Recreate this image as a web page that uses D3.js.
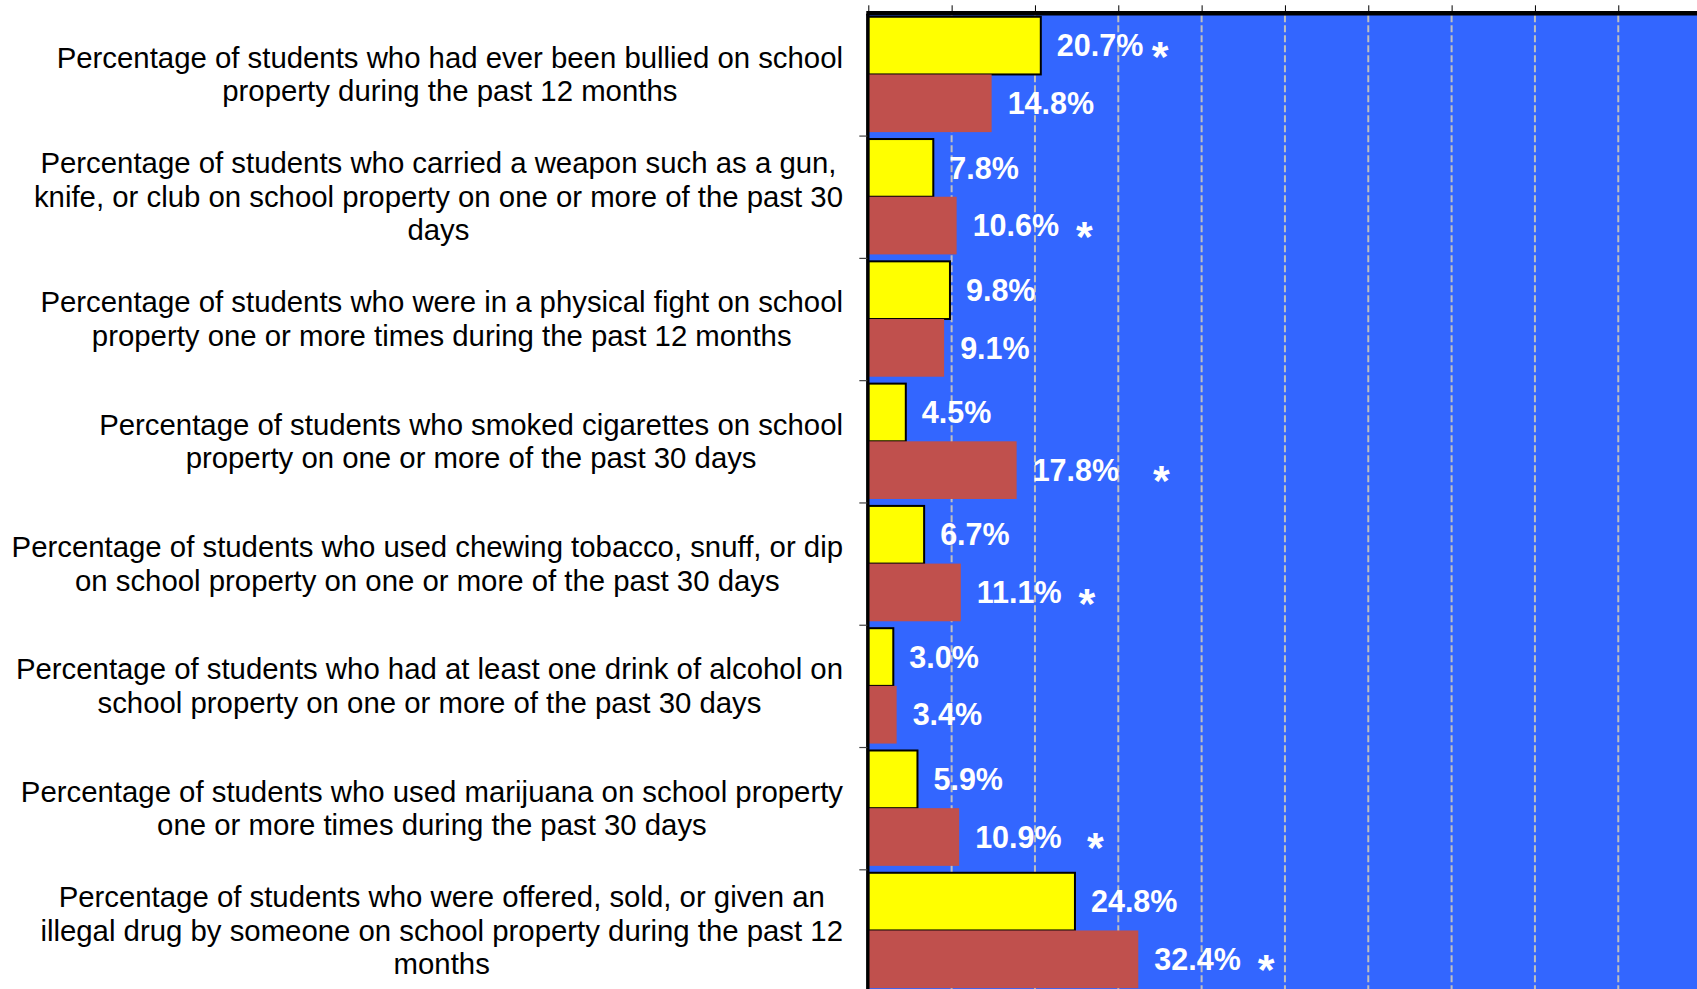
<!DOCTYPE html>
<html><head><meta charset="utf-8">
<script src="https://cdn.jsdelivr.net/npm/d3@7"></script>
<style>
body{margin:0;background:#fff;overflow:hidden}
svg{display:block}
text{font-family:"Liberation Sans",Arial,sans-serif}
</style>
</head><body>
<svg id="chart" width="1697" height="989"></svg>
<script>
// ---- data ----
const categories = [
  ["Percentage of students who had ever been bullied on school", "property during the past 12 months"],
  ["Percentage of students who carried a weapon such as a gun,", "knife, or club on school property on one or more of the past 30", "days"],
  ["Percentage of students who were in a physical fight on school", "property one or more times during the past 12 months"],
  ["Percentage of students who smoked cigarettes on school", "property on one or more of the past 30 days"],
  ["Percentage of students who used chewing tobacco, snuff, or dip", "on school property on one or more of the past 30 days"],
  ["Percentage of students who had at least one drink of alcohol on", "school property on one or more of the past 30 days"],
  ["Percentage of students who used marijuana on school property", "one or more times during the past 30 days"],
  ["Percentage of students who were offered, sold, or given an", "illegal drug by someone on school property during the past 12", "months"]
];
const seriesNames = ["yellow", "red"];
const valuesYellow = [20.7, 7.8, 9.8, 4.5, 6.7, 3.0, 5.9, 24.8];
const valuesRed    = [14.8, 10.6, 9.1, 17.8, 11.1, 3.4, 10.9, 32.4];
// significance marks (spaces before the asterisk are part of the text)
const notesYellow = [" ", "", "", "", "", "", "", ""];
const notesRed    = ["", "  ", "", "    ", "  ", "", "   ", "  "];
const xTicks = [0, 10, 20, 30, 40, 50, 60, 70, 80, 90, 100];

(function () {
// ---- layout ----
const W = 1697, H = 989;
const pLeft = 868.3, pRight = 1701.6, pTop = 13.3, pBottom = 991.6;
const colors = {yellow: "#FFFF00", red: "#C0504D"};
const svg = d3.select("#chart");

const x = d3.scaleLinear().domain([0, 100]).range([pLeft, pRight]);
const y0 = d3.scaleBand().domain(d3.range(categories.length)).range([pTop, pBottom]).padding(0);
const y1 = d3.scaleBand().domain(seriesNames).range([0, y0.bandwidth()]).paddingInner(0).paddingOuter(0.06);
const yIdx = d3.scaleLinear().domain([0, categories.length]).range([pTop, pBottom]);

// plot background
svg.append("rect").attr("x", x(0)).attr("y", pTop).attr("width", W - x(0) + 10).attr("height", pBottom - pTop).attr("fill", "#3366FF");

// gridlines
svg.append("g").selectAll("line").data(xTicks.slice(1)).join("line")
  .attr("x1", d => x(d)).attr("x2", d => x(d))
  .attr("y1", pTop + 2).attr("y2", pBottom)
  .attr("stroke", "#BFBFBF").attr("stroke-width", 2).attr("stroke-dasharray", "7,3");

// bars
const rows = categories.map((c, i) => ({
  i,
  bars: [
    {s: "yellow", v: valuesYellow[i], note: notesYellow[i]},
    {s: "red", v: valuesRed[i], note: notesRed[i]}
  ]
}));
const rowG = svg.append("g").selectAll("g").data(rows).join("g")
  .attr("transform", d => `translate(0,${y0(d.i)})`);
rowG.selectAll("rect").data(d => d.bars).join("rect")
  .attr("x", x(0)).attr("y", d => y1(d.s))
  .attr("width", d => x(d.v) - x(0)).attr("height", y1.bandwidth())
  .attr("fill", d => colors[d.s])
  .attr("stroke", d => d.s === "yellow" ? "#000" : "none")
  .attr("stroke-width", 2);

// value labels
const lab = rowG.selectAll("text").data(d => d.bars).join("text")
  .attr("x", d => x(d.v) + 16)
  .attr("y", d => y1(d.s) + y1.bandwidth() / 2)
  .attr("dy", "0.35em")
  .attr("fill", "#fff").attr("font-weight", "bold").attr("font-size", 30.5)
  .style("white-space", "pre");
lab.append("tspan").text(d => d3.format(".1f")(d.v) + "%" + d.note);
lab.filter(d => d.note !== "").append("tspan")
  .attr("font-size", 43).attr("dy", 14.5).text("*");

// top axis
const xAxis = svg.append("g").attr("transform", `translate(0,${pTop})`)
  .call(d3.axisTop(x).tickValues(xTicks).tickSize(8).tickSizeOuter(0).tickFormat(""));
xAxis.select(".domain").attr("stroke", "#000").attr("stroke-width", 4.5)
  .attr("d", `M${x(0) - 2},0H${W + 10}`);
xAxis.selectAll(".tick line").attr("stroke", "#000").attr("stroke-width", 1);

// left axis
const yAxis = svg.append("g").attr("transform", `translate(${x(0) - 1},0)`)
  .call(d3.axisLeft(yIdx).tickValues(d3.range(1, categories.length)).tickSize(8).tickSizeOuter(0).tickFormat(""));
yAxis.select(".domain").attr("stroke", "#000").attr("stroke-width", 3.4);
yAxis.selectAll(".tick line").attr("stroke", "#404040").attr("stroke-width", 1.2);

// category labels
const labelRight = 843, lineH = 33.5, fs = 29.35;
const catG = svg.append("g");
categories.forEach((lines, i) => {
  const cy = y0(i) + y0.bandwidth() / 2;
  const g = catG.append("g");
  const ts = lines.map((ln, k) => g.append("text")
    .attr("font-size", fs).attr("fill", "#000")
    .attr("text-anchor", "middle")
    .attr("y", cy + 10.2 + (k - (lines.length - 1) / 2) * lineH)
    .text(ln));
  const maxW = d3.max(ts, t => t.node().getComputedTextLength());
  ts.forEach(t => t.attr("x", labelRight - maxW / 2));
});
})();
</script>
</body></html>
